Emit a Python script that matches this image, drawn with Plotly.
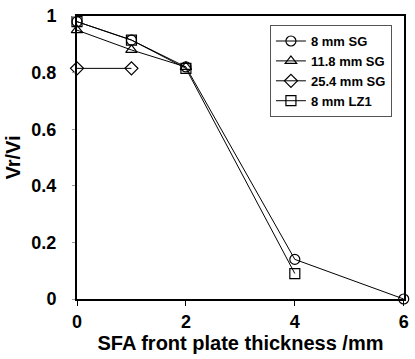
import plotly.graph_objects as go

x_sg8 = [0, 1, 2, 4, 6]
y_sg8 = [0.98, 0.915, 0.82, 0.14, 0.0]
x_sg118 = [0, 1, 2]
y_sg118 = [0.95, 0.88, 0.82]
x_sg254 = [0, 1]
y_sg254 = [0.815, 0.815]
x_lz1 = [0, 1, 2, 4]
y_lz1 = [0.98, 0.915, 0.815, 0.09]

names = ["8 mm SG", "11.8 mm SG", "25.4 mm SG", "8 mm LZ1"]
symbols = ["circle-open", "triangle-up-open", "diamond-open", "square-open"]
xs = [x_sg8, x_sg118, x_sg254, x_lz1]
ys = [y_sg8, y_sg118, y_sg254, y_lz1]

FAM = "Liberation Sans, Arial"

fig = go.Figure()
for n, s, x, y in zip(names, symbols, xs, ys):
    fig.add_trace(go.Scatter(
        x=x, y=y, name=n, mode="lines+markers",
        line=dict(color="black", width=1),
        marker=dict(symbol=s, size=10, color="black", line=dict(width=1.2, color="black")),
        cliponaxis=False,
    ))

fig.update_layout(
    width=415, height=359,
    margin=dict(l=77, r=6, t=16, b=60),
    paper_bgcolor="white", plot_bgcolor="white",
    font=dict(family=FAM, color="black"),
    showlegend=True,
    legend=dict(
        x=0.59, y=0.968, xanchor="left", yanchor="top",
        bgcolor="white", bordercolor="#555", borderwidth=1,
        font=dict(family=FAM, size=13, color="black", weight="bold"),
        itemwidth=30, tracegroupgap=4,
    ),
    xaxis=dict(
        range=[0, 6.005], tickvals=[0, 2, 4, 6], ticktext=["0", "2", "4", "6"],
        showgrid=False, zeroline=False, showline=True, linecolor="black", linewidth=2,
        mirror=True, ticks="outside", ticklen=5, tickcolor="black",
        ticklabeloverflow="allow",
        tickfont=dict(family=FAM, size=18, color="black", weight="bold"),
        title=dict(text="SFA front plate thickness /mm", standoff=4,
                   font=dict(family=FAM, size=20, color="black", weight="bold")),
    ),
    yaxis=dict(
        range=[0, 1], tickvals=[0, 0.2, 0.4, 0.6, 0.8, 1], ticktext=["0", "0.2", "0.4", "0.6", "0.8", "1"],
        showgrid=False, zeroline=False, showline=True, linecolor="black", linewidth=2,
        mirror=True, ticks="outside", ticklen=3, tickcolor="#999",
        ticklabeloverflow="allow",
        tickfont=dict(family=FAM, size=18, color="black", weight="bold"),
        ticklabelstandoff=12,
        title=dict(text="Vr/Vi", standoff=5,
                   font=dict(family=FAM, size=20, color="black", weight="bold")),
    ),
)

fig.write_html("out.html", config={"displayModeBar": False},
               post_script="document.body.style.margin='0';document.body.style.overflow='hidden';")
